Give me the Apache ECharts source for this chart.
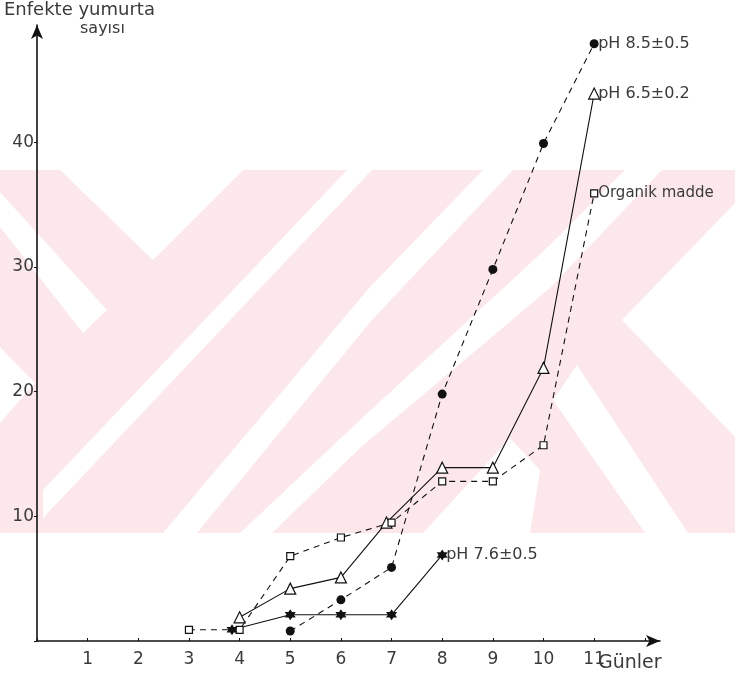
<!DOCTYPE html>
<html><head><meta charset="utf-8">
<script src="https://cdn.jsdelivr.net/npm/echarts@6/dist/echarts.min.js"></script>
<style>html,body{margin:0;padding:0;background:#fff}#c{width:735px;height:680px}</style>
</head><body><div id="c"></div>
<script>
// Data
const yTicks = [10, 20, 30, 40];
const xTicks = [1, 2, 3, 4, 5, 6, 7, 8, 9, 10, 11];

const ph85Days = [5, 6, 7, 8, 9, 10, 11];
const ph85Vals = [0.8, 3.3, 5.9, 19.8, 29.8, 39.9, 47.9];

const ph65Days = [4, 5, 6, 6.9, 8, 9, 10, 11];
const ph65Vals = [1.9, 4.2, 5.1, 9.5, 13.9, 13.9, 21.9, 43.9];

const orgDays = [3, 4, 5, 6, 7, 8, 9, 10, 11];
const orgVals = [0.9, 0.9, 6.8, 8.3, 9.5, 12.8, 12.8, 15.7, 35.9];

const ph76Days = [3.85, 5, 6, 7, 8];
const ph76Vals = [0.9, 2.1, 2.1, 2.1, 6.9];

const names = ['pH 8.5±0.5', 'pH 6.5±0.2', 'Organik madde', 'pH 7.6±0.5'];

const pair = (d, v) => d.map((x, i) => [x, v[i]]);
const FONT = 'DejaVu Sans';
const TXT = '#3a3a3a';
const PINK = '#fce7ea';
const starPath = 'path://M0,-10 L2.9,-5 L8.66,-5 L5.8,0 L8.66,5 L2.9,5 L0,10 L-2.9,5 L-8.66,5 L-5.8,0 L-8.66,-5 L-2.9,-5 Z';

// watermark (decorative background)
const wm = [];
wm.push({type:'rect', shape:{x:0,y:170,width:735,height:363}, style:{fill:PINK}, z:-10, silent:true});
const whites = [
  [[60,170],[243,170],[153,260]],
  [[0,192],[107,310],[83,333],[0,227]],
  [[0,347],[35,383],[0,423]],
  [[43,490],[347,170],[372,170],[43,518]],
  [[163,533],[370,287],[483,170],[513,170],[372,320],[197,533]],
  [[240,533],[360,420],[550,245],[625,170],[662,170],[550,288],[360,448],[272,533]],
  [[622,320],[735,203],[735,437]],
  [[577,365],[688,533],[645,533],[553,400]],
  [[423,533],[510,438],[540,470],[530,533]]
];
whites.forEach(p => wm.push({type:'polygon', shape:{points:p}, style:{fill:'#fff'}, z:-9, silent:true}));
wm.push({type:'text', left:4, top:1, z:10, style:{text:'Enfekte yumurta', font:'18px "DejaVu Sans"', fill:TXT}});
wm.push({type:'text', left:80, top:21, z:10, style:{text:'sayısı', font:'16px "DejaVu Sans"', fill:TXT}});
wm.push({type:'text', left:598, top:654, z:10, style:{text:'Günler', font:'19px "DejaVu Sans"', fill:TXT}});

const chart = echarts.init(document.getElementById('c'), null, {renderer:'canvas'});
const lineBase = (name, data, dashed, symbol, size, filled, fs) => ({
  name, type:'line', data, z:3,
  symbol, symbolSize:size, showAllSymbol:true,
  lineStyle:{color:'#111', width:1.1, type: dashed ? [6,5] : 'solid'},
  itemStyle:{color: filled ? '#111' : '#fff', borderColor:'#111', borderWidth: filled ? 0 : 1.2},
  endLabel:{show:true, formatter:name, distance:4, color:TXT, fontFamily:FONT, fontSize:fs},
  animation:false
});

chart.setOption({
  animation:false,
  graphic: wm,
  grid:{left:37, right:75, top:25, bottom:39},
  xAxis:{
    type:'value', min:0, max:12.3, interval:1,
    axisLine:{show:true, lineStyle:{color:'#111', width:1.6}, symbol:['none','arrow'], symbolSize:[9,14]},
    axisTick:{show:true, length:3, inside:true, lineStyle:{color:'#111'}},
    axisLabel:{color:TXT, fontFamily:FONT, fontSize:17, margin:10, showMaxLabel:false,
      formatter: v => xTicks.includes(v) ? String(v) : ''},
    splitLine:{show:false}
  },
  yAxis:{
    type:'value', min:0, max:49.4, interval:10,
    axisLine:{show:true, lineStyle:{color:'#111', width:1.6}, symbol:['none','arrow'], symbolSize:[9,14]},
    axisTick:{show:true, length:3, lineStyle:{color:'#111'}},
    axisLabel:{color:TXT, fontFamily:FONT, fontSize:17, margin:3, showMaxLabel:false,
      formatter: v => yTicks.includes(v) ? String(v) : ''},
    splitLine:{show:false}
  },
  series:[
    lineBase(names[0], pair(ph85Days, ph85Vals), true, 'circle', 9, true, 16),
    lineBase(names[1], pair(ph65Days, ph65Vals), false, 'triangle', 11, false, 16),
    lineBase(names[2], pair(orgDays, orgVals), true, 'rect', 7, false, 15),
    lineBase(names[3], pair(ph76Days, ph76Vals), false, starPath, 11, true, 16)
  ]
});
</script></body></html>
